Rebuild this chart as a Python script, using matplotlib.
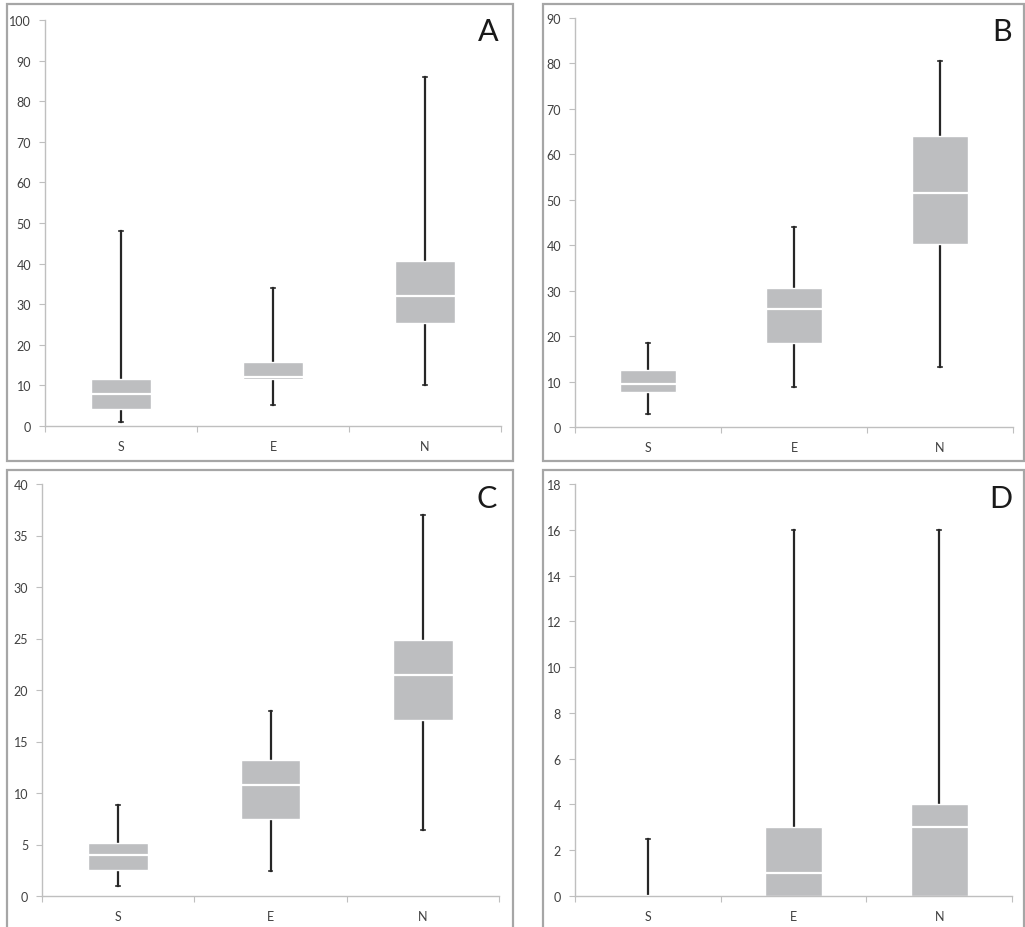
import matplotlib.pyplot as plt
from matplotlib.patches import Rectangle

plt.rcParams['font.family'] = ['Lato', 'DejaVu Sans']

categories = ['S', 'E', 'N']

# min, q1, median, q3, max for each site
a_min = [1.0, 5.1, 10.0]
a_q1 = [4.3, 11.5, 25.3]
a_med = [8.0, 12.1, 32.1]
a_q3 = [11.5, 15.8, 40.6]
a_max = [48.0, 34.0, 86.0]

b_min = [2.9, 8.9, 13.3]
b_q1 = [7.6, 18.5, 40.2]
b_med = [9.5, 26.0, 51.5]
b_q3 = [12.5, 30.6, 64.1]
b_max = [18.5, 44.1, 80.6]

c_min = [1.0, 2.4, 6.4]
c_q1 = [2.5, 7.5, 17.1]
c_med = [4.0, 10.75, 21.5]
c_q3 = [5.1, 13.2, 24.9]
c_max = [8.8, 18.0, 37.0]

d_min = [0.0, 0.0, 0.0]
d_q1 = [0.0, 0.0, 0.0]
d_med = [0.0, 1.0, 3.0]
d_q3 = [0.0, 3.0, 4.0]
d_max = [2.5, 16.0, 16.0]

panels = [
    ('A', (a_min, a_q1, a_med, a_q3, a_max), 100, 10),
    ('B', (b_min, b_q1, b_med, b_q3, b_max), 90, 10),
    ('C', (c_min, c_q1, c_med, c_q3, c_max), 40, 5),
    ('D', (d_min, d_q1, d_med, d_q3, d_max), 18, 2),
]

W, H = 1025, 928
# axes boxes in pixels: left, right, top (ymax), bottom (y=0)
ax_px = [(45, 501, 21, 427), (575, 1013, 19, 428),
         (42, 499, 485, 897), (575, 1012, 485, 897)]
# outer frames in pixels: x0, x1, y0, y1
frame_px = [(7, 513, 5, 462), (543, 1024, 5, 462),
            (7, 513, 471, 935), (543, 1024, 471, 935)]
letter_px = [(488, 32), (1002, 32), (487, 499), (1001, 499)]

box_col = '#BDBEC0'
grey_ax = '#BFBFBF'

fig = plt.figure(figsize=(W / 100, H / 100), dpi=100)

for (name, vals, ymax, step), (l, r, t, b), (fx0, fx1, fy0, fy1), (lx, ly) in zip(panels, ax_px, frame_px, letter_px):
    fig.add_artist(Rectangle((fx0 / W, 1 - fy1 / H), (fx1 - fx0) / W, (fy1 - fy0) / H,
                             transform=fig.transFigure, fill=False,
                             edgecolor='#A6A6A6', lw=1.6))
    ax = fig.add_axes([l / W, 1 - b / H, (r - l) / W, (b - t) / H])
    mins, q1s, meds, q3s, maxs = vals
    stats = []
    for i in range(3):
        stats.append({'whislo': mins[i], 'q1': q1s[i], 'med': meds[i],
                      'q3': q3s[i], 'whishi': maxs[i], 'fliers': []})
    parts = ax.bxp(stats, positions=[1, 2, 3], widths=0.39, patch_artist=True,
                   showfliers=False, capwidths=0.025, zorder=2,
                   boxprops=dict(facecolor=box_col, edgecolor='white', lw=1.0),
                   medianprops=dict(color='white', lw=1.6),
                   whiskerprops=dict(color='#262626', lw=1.6),
                   capprops=dict(color='#262626', lw=1.2))
    # caps sitting on the zero line are not drawn in the original
    for cap in parts['caps']:
        if max(cap.get_ydata()) == 0:
            cap.set_visible(False)
    for box in parts['boxes']:
        box.set_zorder(2.2)
    for med in parts['medians']:
        med.set_zorder(2.3)
    ax.set_xlim(0.5, 3.5)
    ax.set_ylim(0, ymax)
    ax.set_yticks(range(0, ymax + 1, step))
    ax.set_xticks([0.5, 1.5, 2.5, 3.5])
    ax.set_xticklabels([])
    ax.set_xticks([1, 2, 3], minor=True)
    ax.set_xticklabels(categories, minor=True)
    ax.tick_params(axis='x', which='minor', length=0, pad=10, labelsize=9, labelcolor='#404040')
    ax.tick_params(axis='x', which='major', length=4, color=grey_ax, direction='out')
    ax.tick_params(axis='y', length=4, color=grey_ax, pad=6, labelsize=9, labelcolor='#404040')
    for s in ['top', 'right']:
        ax.spines[s].set_visible(False)
    for s in ['left', 'bottom']:
        ax.spines[s].set_color(grey_ax)
        ax.spines[s].set_linewidth(1.0)
        ax.spines[s].set_zorder(3)
    fig.text(lx / W, 1 - ly / H, name, ha='center', va='center', fontsize=22, color='#1a1a1a')

fig.savefig('out.png', dpi=100)
